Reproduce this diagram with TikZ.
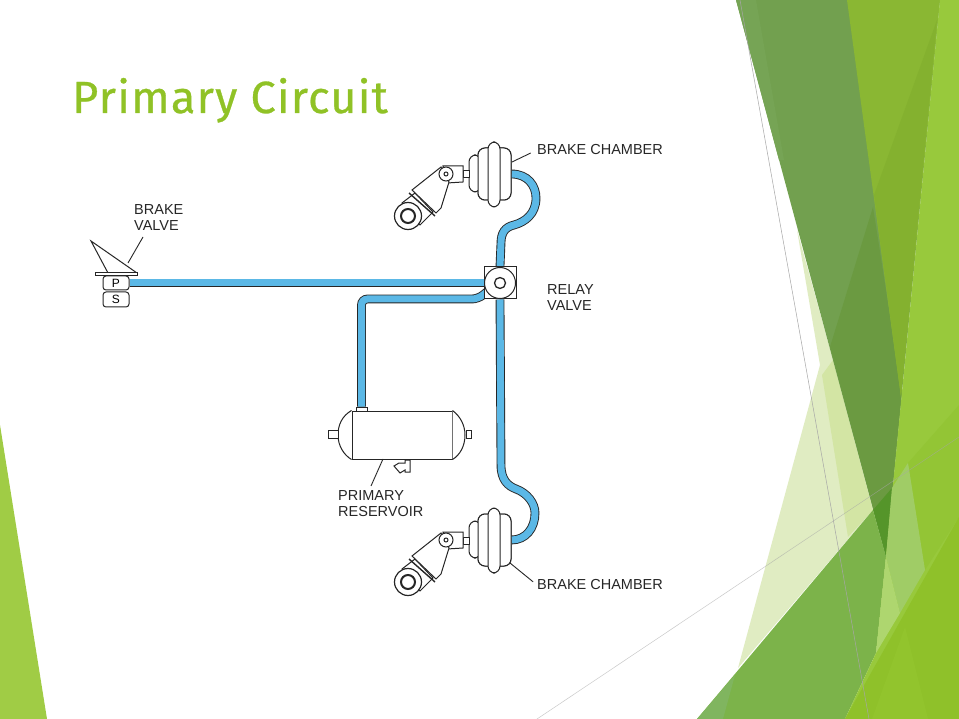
\documentclass[tikz,border=0pt]{standalone}
\usepackage{fontspec}
\setmainfont{Liberation Sans}
\newfontfamily\titlefont[LetterSpace=2.7,FakeBold=0.6]{Fira Sans}
\usepackage{tikz}

\definecolor{titlegreen}{HTML}{90C226}
\definecolor{pipeblue}{HTML}{5BB8E6}
\definecolor{inkline}{HTML}{262626}
\definecolor{leafside}{HTML}{A0CC45}
\definecolor{paleone}{HTML}{E0ECC2}
\definecolor{paletwo}{HTML}{D3E5A4}
\definecolor{olive}{HTML}{72A04F}
\definecolor{olivelight}{HTML}{76A455}
\definecolor{olivedark}{HTML}{6B9A41}
\definecolor{grass}{HTML}{8AB733}
\definecolor{grassdark}{HTML}{84B12F}
\definecolor{deepest}{HTML}{55952A}
\definecolor{meadow}{HTML}{7CB34A}
\definecolor{meadowsoft}{HTML}{80B55F}
\definecolor{bright}{HTML}{98C93C}
\definecolor{brighttwo}{HTML}{93C535}
\definecolor{glassone}{HTML}{A0CC66}
\definecolor{glasstwo}{HTML}{AED66F}
\definecolor{lime}{HTML}{8FC12A}
\definecolor{limesoft}{HTML}{92C42D}

\tikzset{
	part/.style={draw=inkline,fill=white,line width=1pt,inner sep=0pt},
	lobe/.style={part,rounded corners=7pt},
	ring/.style={part,circle},
	pipe/.style={draw=inkline,double=pipeblue,double distance=7pt,line width=0.9pt},
	leader/.style={draw=inkline,line width=0.9pt},
	tag/.style={inner sep=0pt,anchor=west,align=left,text=inkline,font=\fontsize{14.5}{16}\selectfont},
	thinline/.style={draw=gray!70,line width=0.5pt}
}

\begin{document}
\begin{tikzpicture}[x=1pt,y=-1pt]
	\useasboundingbox (0,0) rectangle (959,719);

	% slide background
	\fill[white] (0,0) rectangle (959,719);
	\fill[leafside] (0,425) -- (47,719) -- (0,719) -- cycle;
	\fill[paleone] (797,230) -- (820,365) -- (738,668) -- (873,510) -- (833,360) -- cycle;
	\fill[paletwo] (822,375) -- (848,537) -- (873,510) -- (833,360) -- cycle;
	\fill[olive] (736,0) -- (940,0) -- (886,557) -- cycle;
	\fill[olivelight] (736,0) -- (756,0) -- (784,160) -- (779,160) -- cycle;
	\fill[olivedark] (873,207) -- (830,347) -- (886,557) -- (902,393) -- cycle;
	\fill[grass] (847,0) -- (940,0) -- (901,397) -- cycle;
	\fill[grassdark] (874,195) -- (937,20) -- (901,397) -- cycle;
	\fill[deepest] (873,510) -- (892,488) -- (886,557) -- cycle;
	\fill[meadow] (697,719) -- (873,510) -- (886,557) -- (876,653) -- (845,719) -- cycle;
	\fill[meadowsoft] (697,719) -- (735,675) -- (723,719) -- cycle;
	\fill[bright] (940,0) -- (959,0) -- (959,719) -- (845,719) -- (876,653) -- (886,557) -- cycle;
	\fill[brighttwo] (908,463) -- (959,405) -- (959,517) -- (925,570) -- cycle;
	\fill[glassone] (886,557) -- (900,613) -- (925,570) -- (908,463) -- (892,488) -- cycle;
	\fill[glasstwo] (886,557) -- (900,613) -- (876,653) -- cycle;
	\fill[lime] (845,719) -- (959,517) -- (959,719) -- cycle;
	\fill[limesoft] (872,719) -- (905,627) -- (928,719) -- cycle;
	\draw[thinline] (740,0) -- (869,719);
	\draw[thinline,opacity=0.6] (537,719) -- (959,437);

	\node[anchor=base west,inner sep=0pt,text=titlegreen,font=\titlefont\fontsize{45}{48}\selectfont] (title) at (72,113) {Primary Circuit};

	% components that the pipes end on
	\node[part,minimum width=26,minimum height=14,rounded corners=3pt,font=\fontsize{12}{12}\selectfont] (valveP) at (116,283) {P};
	\node[part,minimum width=26,minimum height=15,rounded corners=3pt,font=\fontsize{12}{12}\selectfont] (valveS) at (116,299.5) {S};
	\node[part,minimum width=32,minimum height=32] (relay) at (500,283) {};
	\node[part,minimum width=11,minimum height=4] (resvtop) at (361.5,409) {};
	\coordinate (branchin) at (488,291);
	\coordinate (branchrun) at (478,299);

	\foreach \dy/\n in {0/top,366/low} {
		\begin{scope}[shift={(0,\dy)}]
			\node[lobe,minimum width=33,minimum height=52] (lobe\n) at (494.5,174) {};
		\end{scope}
	}

	% pipes
	\draw[pipe] (valveP.east) -- (relay.west);
	\draw[pipe,rounded corners=6pt] (branchin) -- (branchrun) -- (361.5,299) -- (resvtop.north);
	\draw[pipe] (lobetop.east) .. controls (528,174) and (536,186) .. (536,198)
		.. controls (536,214) and (525,222) .. (514,225)
		.. controls (505,227) and (501,233) .. (501,243) -- (relay.north);
	\draw[pipe] (relay.south) -- (501,465) .. controls (501,480) and (508,486) .. (516,489)
		.. controls (527,493) and (535,503) .. (535,513)
		.. controls (535,528) and (526,540) .. (lobelow.east);

	% relay valve
	\node[part,minimum width=32,minimum height=32] (relaybox) at (500,283) {};
	\node[ring,minimum size=31] (relayring) at (500,283) {};
	\node[ring,minimum size=11,line width=1.3pt] (relaycore) at (500,283) {};

	% brake valve
	\coordinate (pedaltip) at (91,241);
	\coordinate (pedalheel) at (108,273);
	\coordinate (pedaltoe) at (137,273);
	\draw[leader,line width=1pt] (pedalheel) -- (pedaltip) -- (pedaltoe);
	\node[part,minimum width=42,minimum height=3] (valveplate) at (116,274.5) {};

	% reservoir
	\node[part,minimum width=100,minimum height=48] (resvbody) at (402,435) {};
	\draw[part] (resvbody.north west) .. controls (342,416) and (338,425) .. (338,435)
		.. controls (338,446) and (344,455) .. (resvbody.south west);
	\draw[part] (resvbody.north east) .. controls (460,416) and (465,425) .. (465,435)
		.. controls (465,446) and (460,455) .. (resvbody.south east);
	\node[part,minimum width=10,minimum height=8] (resvleft) at (333,434) {};
	\node[part,minimum width=5,minimum height=8] (resvright) at (468.5,434) {};
	\draw[part] (405,460) -- (410,460) -- (410,472) -- (405,472) -- (405,470) -- (400,473)
		-- (394,466) -- (399,463) -- (405,463) -- cycle;

	% brake chambers
	\foreach \dy/\n in {0/top,366/low} {
		\begin{scope}[shift={(0,\dy)}]
			\node[lobe,minimum width=12,minimum height=37] (lobeback\n) at (475,173.5) {};
			\node[lobe,minimum width=33,minimum height=52] (lobemid\n) at (494.5,174) {};
			\node[lobe,minimum width=12,minimum height=65] (lobefront\n) at (494,174.5) {};
			\node[part,minimum width=6,minimum height=7] (rod\n) at (466,174.5) {};
			\draw[part] (443,166) -- (463,166) -- (463,182) -- (447,183) -- cycle;
			\draw[part] (402,203) -- (415,193) -- (433,212) -- (420,225) -- cycle;
			\draw[part] (441,167) -- (412,190) -- (436,213) -- (441,208) -- (449,182) -- cycle;
			\draw[leader,line width=1.4pt] (409,193) -- (435,216);
			\node[ring,minimum size=14] (pin\n) at (446,174) {};
			\node[ring,minimum size=4] (pincore\n) at (446,174) {};
			\node[ring,minimum size=27,line width=1.2pt] (drum\n) at (408,216) {};
			\node[ring,minimum size=14,line width=2pt] (drumcore\n) at (408,216) {};
		\end{scope}
	}

	% labels
	\node[tag] (tagvalve) at (134,218) {BRAKE\\VALVE};
	\node[tag] (tagrelay) at (547,298) {RELAY\\VALVE};
	\node[tag] (tagresv) at (338,504) {PRIMARY\\RESERVOIR};
	\node[tag] (tagtop) at (537,150) {BRAKE CHAMBER};
	\node[tag] (taglow) at (537,585) {BRAKE CHAMBER};

	\coordinate (valvefoot) at (143,237);
	\coordinate (valvehit) at (128,263);
	\coordinate (resvfoot) at (371,486);
	\coordinate (resvhit) at (383,459);
	\coordinate (tophit) at (512,162);
	\coordinate (lowhit) at (510,563);
	\draw[leader] (valvefoot) -- (valvehit);
	\draw[leader] (resvfoot) -- (resvhit);
	\draw[leader,shorten <=7pt] (tagtop.west) -- (tophit);
	\draw[leader,shorten <=5pt] (taglow.west) -- (lowhit);
\end{tikzpicture}
\end{document}
